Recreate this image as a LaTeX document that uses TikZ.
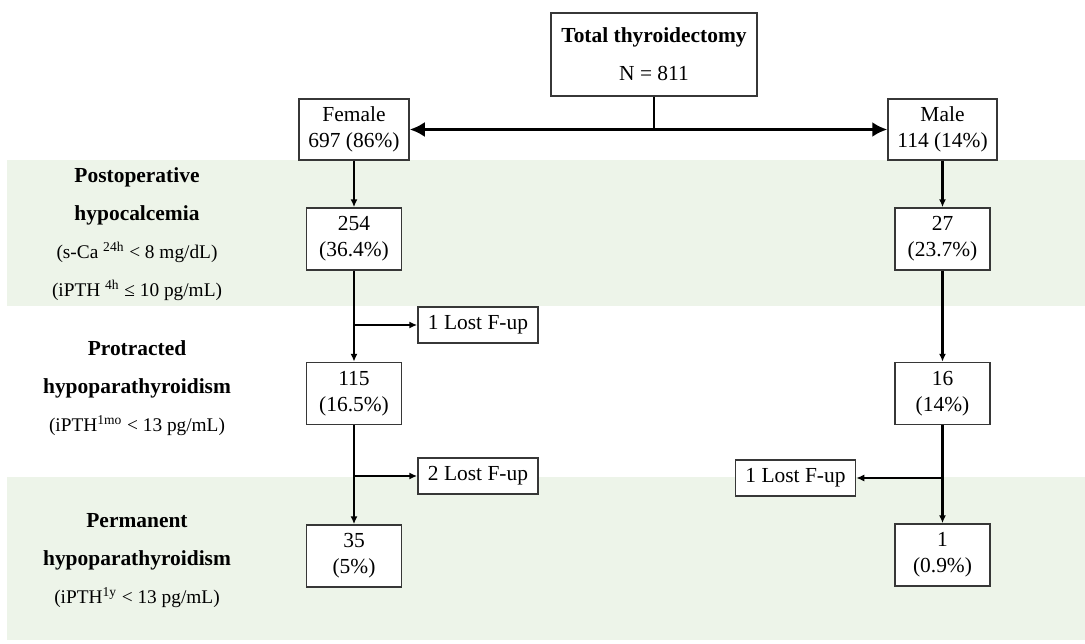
\documentclass[tikz,border=0pt]{standalone}
\usepackage{fontspec}
\setmainfont{Liberation Serif}
\usepackage{xcolor}
\usepackage{tikz}
\usetikzlibrary{arrows.meta}

\definecolor{bandgreen}{RGB}{237,244,233}
\definecolor{boxgray}{RGB}{55,55,55}
\newcommand{\condsize}{\fontsize{11}{21.6}\selectfont}

\begin{document}
\begin{tikzpicture}[
      font=\fontsize{12.2}{14.8}\selectfont,
      box/.style={draw=boxgray, line width=0.85pt, fill=white, align=center, inner sep=0pt},
      valbox/.style={box, minimum width=1.9cm, minimum height=1.24cm},
      lostbox/.style={box, minimum width=2.4cm, minimum height=0.72cm},
      flow/.style={line width=1.2pt, -{Latex[length=1.6mm,width=1.4mm]}},
      split/.style={line width=1.6pt, -{Latex[length=3mm,width=3mm]}},
      stage/.style={align=center, font=\fontsize{12.2}{21.6}\selectfont}
    ]
              \useasboundingbox (0,0) rectangle (21.7,-12.88);
              \fill[bandgreen] (0.14,-3.2) rectangle (21.7,-6.12);
              \fill[bandgreen] (0.14,-9.54) rectangle (21.7,-12.8);

              \node[box, minimum width=4.12cm, minimum height=1.66cm] (T) at (13.08, -1.09)
                   {\textbf{Total thyroidectomy}\\[6.8pt] N = 811};
              \node[box, minimum width=2.2cm, minimum height=1.22cm] (F) at (7.08, -2.59) {Female\\697 (86\%)};
              \node[box, minimum width=2.18cm, minimum height=1.22cm] (M) at (18.85, -2.59) {Male\\114 (14\%)};

              \node[valbox] (F1) at (7.08, -4.78) {254\\(36.4\%)};
              \node[valbox] (F2) at (7.08, -7.87) {115\\(16.5\%)};
              \node[valbox] (F3) at (7.08, -11.12) {35\\(5\%)};
              \node[valbox] (M1) at (18.85, -4.78) {27\\(23.7\%)};
              \node[valbox] (M2) at (18.85, -7.87) {16\\(14\%)};
              \node[valbox] (M3) at (18.85, -11.1) {1\\(0.9\%)};

              \node[lostbox] (L1) at (9.56, -6.5) {1 Lost F-up};
              \node[lostbox] (L2) at (9.56, -9.52) {2 Lost F-up};
              \node[lostbox] (L3) at (15.91, -9.56) {1 Lost F-up};

              \node[stage] (P1) at (2.74, -4.69) {\textbf{Postoperative}\\\textbf{hypocalcemia}\\
                   {\condsize (s-Ca \textsuperscript{24h} < 8 mg/dL)}\\{\condsize (iPTH \textsuperscript{4h} ≤ 10 pg/mL)}};
              \node[stage] (P2) at (2.74, -7.77) {\textbf{Protracted}\\\textbf{hypoparathyroidism}\\
                   {\condsize (iPTH\textsuperscript{1mo} < 13 pg/mL)}};
              \node[stage] (P3) at (2.74, -11.22) {\textbf{Permanent}\\\textbf{hypoparathyroidism}\\
                   {\condsize (iPTH\textsuperscript{1y} < 13 pg/mL)}};

              \coordinate (S) at (T |- F);
              \draw[line width=1.6pt] (T) -- (S);
              \draw[split] (S) -- (F);
              \draw[split] (S) -- (M);

              \draw[flow] (F) -- (F1);
              \draw[flow] (F1) -- (F2);
              \draw[flow] (F2) -- (F3);
              \draw[flow] (M) -- (M1);
              \draw[flow] (M1) -- (M2);
              \draw[flow] (M2) -- (M3);

              \draw[flow] (F1 |- L1) -- (L1);
              \draw[flow] (F2 |- L2) -- (L2);
              \draw[flow] (M2 |- L3) -- (L3);
            \end{tikzpicture}
\end{document}
